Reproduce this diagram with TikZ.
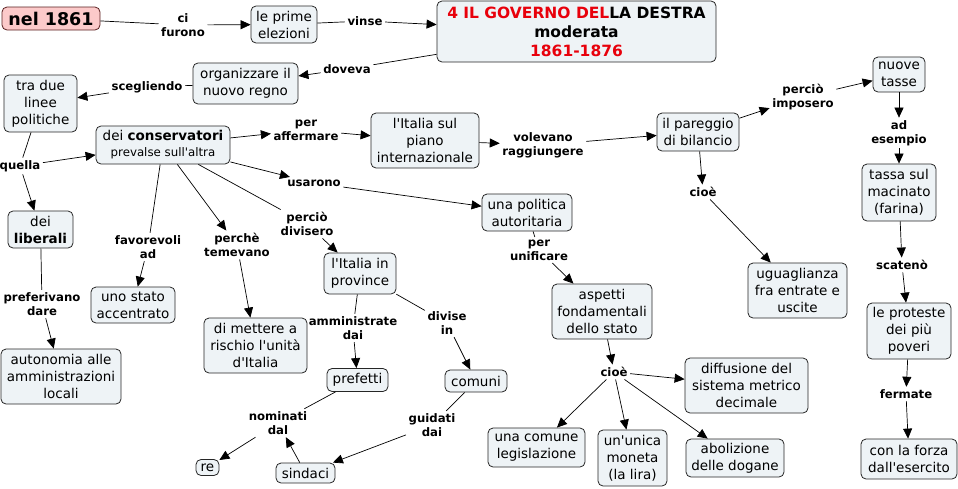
\documentclass[tikz,border=0pt]{standalone}
\usepackage{fontspec}
\setmainfont{DejaVu Sans}[Ligatures=TeXOff]
\usetikzlibrary{arrows.meta}
\definecolor{boxfill}{HTML}{EEF3F6}
\definecolor{pinkfill}{HTML}{FCCACA}
\definecolor{pinkdraw}{HTML}{5A2020}
\definecolor{titlered}{HTML}{E8000B}
\tikzset{
 box/.style={draw=black!85, fill=boxfill, rounded corners=5pt, align=center,
   font=\fontsize{13.5}{17}\selectfont, inner sep=2pt, line width=0.8pt},
 lbl/.style={align=center, font=\bfseries\fontsize{11.7}{14}\selectfont, inner sep=2.5pt},
 conn/.style={draw=black, line width=0.7pt},
 arr/.style={conn, -{Triangle[length=10pt,width=9pt]}},
}
\newcommand{\bx}[5]{\node[box, minimum width=#3pt, minimum height=#4pt] (#1) at #2 {#5};}
\begin{document}
\begin{tikzpicture}[x=1pt,y=-1pt]
\useasboundingbox (0,0) rectangle (958,488);
% concept nodes
\node[box, fill=pinkfill, draw=pinkdraw, minimum width=98pt, minimum height=23pt,
  font=\bfseries\fontsize{17.5}{20}\selectfont, inner sep=1pt] (n1861) at (51,18.5) {nel 1861};
\bx{prime}{(284,24.5)}{66}{37}{le prime\\elezioni}
\node[box, minimum width=279pt, minimum height=61pt, font=\bfseries\fontsize{15.5}{19}\selectfont] (title) at (576.5,31.5)
  {{\color{titlered}4 IL GOVERNO DEL}LA DESTRA\\moderata\\{\color{titlered}1861-1876}};
\bx{org}{(245.5,83.5)}{105}{41}{organizzare il\\nuovo regno}
\bx{tradue}{(40.5,103.5)}{73}{57}{tra due\\linee\\politiche}
\node[box, minimum width=134pt, minimum height=38pt, font=\fontsize{13.5}{16}\selectfont] (cons) at (163,145)
  {dei \textbf{conservatori}\\{\fontsize{11.8}{14}\selectfont prevalse sull'altra}};
\bx{piano}{(425,140.5)}{108}{55}{l'Italia sul\\piano\\internazionale}
\bx{lib}{(40.5,229.5)}{65}{37}{dei\\\textbf{liberali}}
\bx{politica}{(527,212.5)}{90}{37}{una politica\\autoritaria}
\bx{pareggio}{(698,132)}{82}{38}{il pareggio\\di bilancio}
\bx{tasse}{(899,74.5)}{52}{35}{nuove\\tasse}
\bx{macinato}{(899,192.5)}{74}{57}{tassa sul\\macinato\\(farina)}
\bx{stato}{(133,305)}{84}{36}{uno stato\\accentrato}
\bx{rischio}{(255.5,345.5)}{103}{55}{di mettere a\\rischio l'unità\\d'Italia}
\bx{province}{(360,273.5)}{72}{41}{l'Italia in\\province}
\bx{autonomia}{(61,376.5)}{120}{55}{autonomia alle\\amministrazioni\\locali}
\bx{prefetti}{(357.5,380)}{61}{23}{prefetti}
\bx{comuni}{(476,381)}{62}{22}{comuni}
\node[box, minimum width=23pt, minimum height=16pt, inner sep=1pt] (re) at (207.5,467.5) {re};
\bx{sindaci}{(305.5,473)}{59}{20}{sindaci}
\bx{ugua}{(797.5,290.5)}{99}{55}{uguaglianza\\fra entrate e\\uscite}
\bx{aspetti}{(602,311.5)}{100}{55}{aspetti\\fondamentali\\dello stato}
\bx{proteste}{(909,331)}{84}{56}{le proteste\\dei più\\poveri}
\bx{diffusione}{(746.5,385.5)}{123}{55}{diffusione del\\sistema metrico\\decimale}
\bx{comune}{(536.5,447.5)}{97}{39}{una comune\\legislazione}
\bx{moneta}{(632.5,458)}{69}{56}{un'unica\\moneta\\(la lira)}
\bx{dogane}{(735,458)}{98}{38}{abolizione\\delle dogane}
\bx{forza}{(909,459)}{96}{40}{con la forza\\dall'esercito}
% linking phrases
\node[lbl] (cifurono) at (183,25) {ci\\furono};
\node[lbl] (vinse) at (365,21) {vinse};
\node[lbl] (doveva) at (347,69) {doveva};
\node[lbl] (scegliendo) at (147,87) {scegliendo};
\node[lbl] (quella) at (20,166) {quella};
\node[lbl] (perafferm) at (306,130) {per\\affermare};
\node[lbl] (usarono) at (314,183) {usarono};
\node[lbl] (favorevoli) at (148,247) {favorevoli\\ad};
\node[lbl] (perche) at (237,245) {perchè\\temevano};
\node[lbl] (percio) at (307,224) {perciò\\divisero};
\node[lbl] (volevano) at (543,145) {volevano\\raggiungere};
\node[lbl] (imposero) at (803,97) {perciò\\imposero};
\node[lbl] (adesempio) at (899,133) {ad\\esempio};
\node[lbl] (cioeA) at (703,192) {cioè};
\node[lbl] (unificare) at (539,250) {per\\unificare};
\node[lbl] (preferivano) at (42,304) {preferivano\\dare};
\node[lbl] (amministrate) at (353,328) {amministrate\\dai};
\node[lbl] (divise) at (447,323) {divise\\in};
\node[lbl] (nominati) at (278,423) {nominati\\dal};
\node[lbl] (guidati) at (432,425) {guidati\\dai};
\node[lbl] (scateno) at (902,265) {scatenò};
\node[lbl] (cioeB) at (614,372) {cioè};
\node[lbl] (fermate) at (906,394) {fermate};
% connectors
\draw[conn] (n1861) -- (cifurono); \draw[arr] (cifurono) -- (prime);
\draw[conn] (prime) -- (vinse); \draw[arr] (vinse) -- (title);
\draw[conn] (title) -- (doveva); \draw[arr] (doveva) -- (org);
\draw[conn] (org) -- (scegliendo); \draw[arr] (scegliendo) -- (tradue);
\draw[conn] (tradue) -- (quella);
\draw[arr] (quella) -- (cons); \draw[arr] (quella) -- (lib);
\draw[arr] (cons) -- (perafferm); \draw[arr] (perafferm) -- (piano);
\draw[arr] (cons) -- (usarono); \draw[arr] (usarono) -- (politica);
\draw[conn] (cons) -- (favorevoli); \draw[arr] (favorevoli) -- (stato);
\draw[arr] (cons) -- (perche); \draw[arr] (perche) -- (rischio);
\draw[conn] (cons) -- (percio); \draw[arr] (percio) -- (province);
\draw[arr] (piano) -- (volevano); \draw[arr] (volevano) -- (pareggio);
\draw[arr] (pareggio) -- (imposero); \draw[arr] (imposero) -- (tasse);
\draw[arr] (tasse) -- (adesempio); \draw[arr] (adesempio) -- (macinato);
\draw[arr] (macinato) -- (scateno); \draw[arr] (scateno) -- (proteste);
\draw[arr] (proteste) -- (fermate); \draw[arr] (fermate) -- (forza);
\draw[arr] (pareggio) -- (cioeA); \draw[arr] (cioeA) -- (ugua);
\draw[conn] (politica) -- (unificare); \draw[arr] (unificare) -- (aspetti);
\draw[arr] (aspetti) -- (cioeB);
\draw[arr] (cioeB) -- (diffusione); \draw[arr] (cioeB) -- (comune);
\draw[arr] (cioeB) -- (moneta); \draw[arr] (cioeB) -- (dogane);
\draw[conn] (lib) -- (preferivano); \draw[arr] (preferivano) -- (autonomia);
\draw[conn] (province) -- (amministrate); \draw[arr] (amministrate) -- (prefetti);
\draw[conn] (province) -- (divise); \draw[arr] (divise) -- (comuni);
\draw[conn] (prefetti) -- (nominati); \draw[arr] (nominati) -- (re);
\draw[conn] (comuni) -- (guidati); \draw[arr] (guidati) -- (sindaci);
\draw[arr] (sindaci) -- (nominati);
\end{tikzpicture}
\end{document}
